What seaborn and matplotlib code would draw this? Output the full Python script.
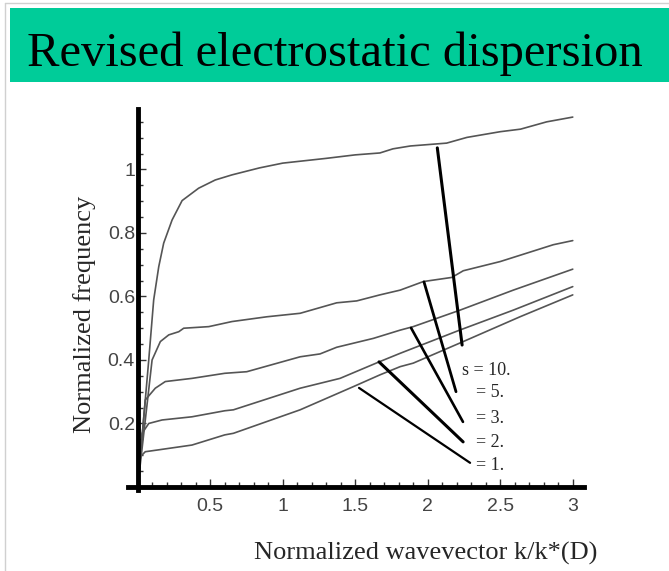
import numpy as np
import pandas as pd
import seaborn as sns
import matplotlib.pyplot as plt
from matplotlib.patches import Rectangle
from matplotlib.lines import Line2D
from matplotlib.ticker import FixedLocator

# dispersion curves: (k, omega) for each s
k_s10 = [0, 0.076, 0.11, 0.145, 0.179, 0.237, 0.306, 0.42, 0.535, 0.65, 0.84, 1.0, 1.3, 1.5, 1.67, 1.76, 1.88, 2.13, 2.27, 2.5, 2.64, 2.82, 3.0]
w_s10 = [0, 0.40, 0.589, 0.694, 0.768, 0.841, 0.902, 0.941, 0.967, 0.983, 1.005, 1.02, 1.035, 1.046, 1.052, 1.065, 1.074, 1.083, 1.101, 1.119, 1.127, 1.15, 1.165]

k_s5 = [0, 0.099, 0.156, 0.214, 0.283, 0.317, 0.49, 0.65, 0.89, 1.12, 1.372, 1.51, 1.67, 1.81, 1.97, 2.166, 2.245, 2.5, 2.866, 3.0]
w_s5 = [0, 0.40, 0.458, 0.479, 0.489, 0.50, 0.505, 0.521, 0.536, 0.547, 0.58, 0.586, 0.605, 0.62, 0.647, 0.66, 0.681, 0.71, 0.763, 0.776]

k_s3 = [0, 0.052, 0.121, 0.19, 0.374, 0.60, 0.752, 1.12, 1.257, 1.372, 1.625, 1.81, 1.90, 2.223, 2.59, 3.0]
w_s3 = [0, 0.274, 0.311, 0.332, 0.342, 0.358, 0.363, 0.41, 0.419, 0.44, 0.468, 0.494, 0.505, 0.557, 0.62, 0.686]

k_s2 = [0, 0.03, 0.076, 0.168, 0.374, 0.60, 0.66, 1.12, 1.395, 1.67, 1.81, 2.22, 2.59, 3.0]
w_s2 = [0, 0.169, 0.20, 0.211, 0.221, 0.24, 0.243, 0.311, 0.342, 0.395, 0.421, 0.494, 0.557, 0.631]

k_s1 = [0, 0.018, 0.052, 0.145, 0.374, 0.60, 0.66, 1.12, 1.487, 1.67, 1.81, 1.90, 2.22, 2.636, 3.0]
w_s1 = [0, 0.095, 0.111, 0.117, 0.132, 0.164, 0.169, 0.243, 0.316, 0.353, 0.379, 0.39, 0.453, 0.536, 0.605]

# labels and their pointer lines (curve end -> label end)
labels = ["s = 10.", "= 5.", "= 3.", "= 2.", "= 1."]
label_x = [2.237, 2.335, 2.335, 2.335, 2.335]
label_y = [0.368, 0.296, 0.217, 0.139, 0.069]
ptr_x0 = [2.066, 1.974, 1.885, 1.664, 1.526]
ptr_y0 = [1.068, 0.646, 0.501, 0.394, 0.312]
ptr_x1 = [2.237, 2.195, 2.243, 2.244, 2.292]
ptr_y1 = [0.447, 0.30, 0.205, 0.142, 0.076]
ptr_w = [2.2, 2.0, 1.9, 2.2, 1.6]

x_ticks = [0.5, 1, 1.5, 2, 2.5, 3]
x_ticklabels = ["0.5", "1", "1.5", "2", "2.5", "3"]
y_ticks = [0.2, 0.4, 0.6, 0.8, 1.0]
y_ticklabels = ["0.2", "0.4", "0.6", "0.8", "1"]

curves = {"10": (k_s10, w_s10), "5": (k_s5, w_s5), "3": (k_s3, w_s3),
          "2": (k_s2, w_s2), "1": (k_s1, w_s1)}
df = pd.concat([pd.DataFrame({"k": k, "w": w, "s": s}) for s, (k, w) in curves.items()])

sns.set_style("white")
plt.rcParams["font.family"] = ["Liberation Serif", "DejaVu Serif"]

fig = plt.figure(figsize=(6.69, 5.71), dpi=100)

# slide frame + green title banner
fig.add_artist(Line2D([0.007, 0.007], [0, 0.995], color="#d0d0d0", lw=1))
fig.add_artist(Line2D([0.007, 1.0], [0.995, 0.995], color="#d0d0d0", lw=1))
fig.patches.append(Rectangle((0.015, 0.856), 0.985, 0.130, transform=fig.transFigure,
                             facecolor="#00cc99", edgecolor="none", zorder=0))
fig.text(0.5, 0.884, "Revised electrostatic dispersion", ha="center", va="baseline",
         fontsize=35, color="black")

ax = fig.add_axes([0.1842, 0.1305, 0.6936, 0.6839])
sns.lineplot(data=df, x="k", y="w", hue="s", palette={s: "#555555" for s in curves},
             estimator=None, sort=False, legend=False, lw=1.2, ax=ax)

for x0, y0, x1, y1, lw in zip(ptr_x0, ptr_y0, ptr_x1, ptr_y1, ptr_w):
    ax.plot([x0, x1], [y0, y1], color="black", lw=lw)
for t, x, y in zip(labels, label_x, label_y):
    ax.text(x, y, t, fontsize=13, ha="left", va="center")

ax.set_xlim(-0.1, 3.1)
ax.set_ylim(-0.03, 1.2)
for side in ["top", "right"]:
    ax.spines[side].set_visible(False)
ax.spines["left"].set_position(("data", 0))
ax.spines["bottom"].set_position(("data", 0))
ax.spines["left"].set_bounds(-0.01, 1.19)
ax.spines["bottom"].set_bounds(-0.07, 3.08)
for side in ["left", "bottom"]:
    ax.spines[side].set_linewidth(3.5)
    ax.spines[side].set_color("black")

ax.xaxis.set_major_locator(FixedLocator(x_ticks))
ax.xaxis.set_minor_locator(FixedLocator(np.round(np.arange(0.1, 3.05, 0.1), 2)))
ax.yaxis.set_major_locator(FixedLocator(y_ticks))
ax.yaxis.set_minor_locator(FixedLocator(np.round(np.arange(0.05, 1.17, 0.05), 2)))
ax.set_xticklabels(x_ticklabels)
ax.set_yticklabels(y_ticklabels)
ax.tick_params(which="both", direction="in", color="#333333", width=1,
               bottom=True, left=True, labelsize=14, labelcolor="#444444")
ax.tick_params(which="major", length=6)
ax.tick_params(which="minor", length=3.5)
ax.tick_params(axis="x", pad=8)
ax.tick_params(axis="y", pad=2)
for lab in ax.get_xticklabels() + ax.get_yticklabels():
    lab.set_family("Liberation Sans")

ax.set_xlabel("")
ax.set_ylabel("")
fig.text(426 / 669, (571 - 553) / 571, "Normalized wavevector k/k*(D)",
         ha="center", va="center", fontsize=19)
fig.text(85 / 669, (571 - 314) / 571, "Normalized frequency", rotation=90,
         ha="center", va="center", fontsize=19)

fig.savefig("out.png", dpi=100)
